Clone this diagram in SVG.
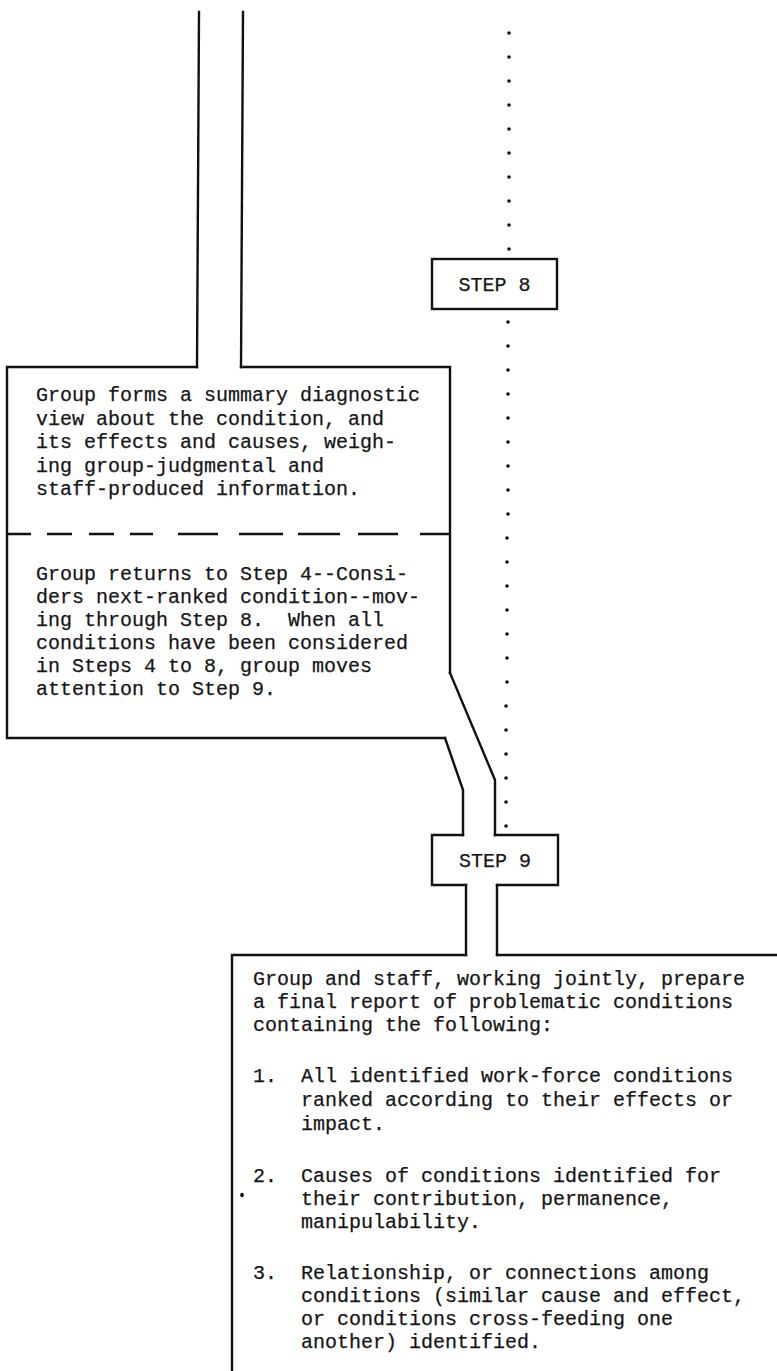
<svg xmlns="http://www.w3.org/2000/svg" width="777" height="1371" viewBox="0 0 777 1371">
  <style>
    .ln { fill: none; stroke: #111; stroke-width: 2.4; stroke-linejoin: miter; stroke-linecap: square; }
    .dash { fill: none; stroke: #111; stroke-width: 2.4; }
    .dot { fill: #111; }
    .tx { font-family: "Liberation Mono", "Courier New", monospace; font-size: 20px; fill: #161616; stroke: #161616; stroke-width: 0.25; }
    .lbl { font-family: "Liberation Mono", "Courier New", monospace; font-size: 20px; fill: #161616; stroke: #161616; stroke-width: 0.25; text-anchor: middle; }
  </style>
  <defs>
    <circle id="d" r="1.8" class="dot"/>
  </defs>
  <rect width="777" height="1371" fill="#fff"/>

  <!-- connectors: double-line channels and dotted path -->
  <g id="connectors">
    <path class="ln" d="M199,12 L197,367"/>
    <path class="ln" d="M243,12 L241,367"/>
    <path class="ln" d="M445,738 L463,790 V835"/>
    <path class="ln" d="M450,673 L495,780 V835"/>
    <path class="ln" d="M466,885 V955"/>
    <path class="ln" d="M497,885 V955"/>
    <g id="dotted">
      <use href="#d" x="509" y="33"/><use href="#d" x="509" y="57"/><use href="#d" x="509" y="81"/>
      <use href="#d" x="509" y="105"/><use href="#d" x="509" y="129"/><use href="#d" x="509" y="153"/>
      <use href="#d" x="509" y="177"/><use href="#d" x="509" y="201"/><use href="#d" x="509" y="225"/>
      <use href="#d" x="509" y="249"/>
      <use href="#d" x="508" y="322"/><use href="#d" x="508" y="346"/><use href="#d" x="508" y="370"/>
      <use href="#d" x="508" y="394"/><use href="#d" x="508" y="418"/><use href="#d" x="508" y="442"/>
      <use href="#d" x="508" y="466"/><use href="#d" x="508" y="490"/><use href="#d" x="508" y="514"/>
      <use href="#d" x="507" y="538"/><use href="#d" x="507" y="562"/><use href="#d" x="507" y="586"/>
      <use href="#d" x="507" y="610"/><use href="#d" x="507" y="634"/><use href="#d" x="507" y="658"/>
      <use href="#d" x="507" y="682"/><use href="#d" x="506" y="706"/><use href="#d" x="506" y="730"/>
      <use href="#d" x="506" y="754"/><use href="#d" x="506" y="778"/><use href="#d" x="506" y="802"/>
      <use href="#d" x="506" y="826"/>
    </g>
  </g>

  <!-- STEP 8 -->
  <g id="step8">
    <rect class="ln" x="432" y="259" width="125" height="50"/>
    <text class="lbl" x="494.5" y="291">STEP 8</text>
  </g>

  <!-- Step 8 description box with dashed divider -->
  <g id="box8">
    <path class="ln" d="M197,367 H7 V738 H445"/>
    <path class="ln" d="M241,367 H450 V673"/>
    <path class="dash" d="M7,534 H31 M47,534 H72 M89,534 H114 M130,534 H153 M178,534 H218 M239,534 H283 M298,534 H340 M358,534 H398 M420,534 H450"/>
    <text class="tx">
      <tspan x="36" y="401">Group forms a summary diagnostic</tspan>
      <tspan x="36" y="424.5">view about the condition, and</tspan>
      <tspan x="36" y="448">its effects and causes, weigh-</tspan>
      <tspan x="36" y="471.5">ing group-judgmental and</tspan>
      <tspan x="36" y="495">staff-produced information.</tspan>
    </text>
    <text class="tx">
      <tspan x="36" y="580">Group returns to Step 4--Consi-</tspan>
      <tspan x="36" y="603">ders next-ranked condition--mov-</tspan>
      <tspan x="36" y="626">ing through Step 8.&#160; When all</tspan>
      <tspan x="36" y="649">conditions have been considered</tspan>
      <tspan x="36" y="672">in Steps 4 to 8, group moves</tspan>
      <tspan x="36" y="695">attention to Step 9.</tspan>
    </text>
  </g>

  <!-- STEP 9 -->
  <g id="step9">
    <path class="ln" d="M463,835 H432 V885 H466"/>
    <path class="ln" d="M497,885 H558 V835 H495"/>
    <text class="lbl" x="495" y="867">STEP 9</text>
  </g>

  <!-- Step 9 final report box -->
  <g id="box9">
    <path class="ln" d="M466,955 H232 V1375"/>
    <path class="ln" d="M497,955 H780"/>
    <text class="tx">
      <tspan x="253" y="985">Group and staff, working jointly, prepare</tspan>
      <tspan x="253" y="1008">a final report of problematic conditions</tspan>
      <tspan x="253" y="1031">containing the following:</tspan>
      <tspan x="253" y="1082">1.</tspan><tspan x="301" y="1082">All identified work-force conditions</tspan>
      <tspan x="301" y="1106">ranked according to their effects or</tspan>
      <tspan x="301" y="1130">impact.</tspan>
      <tspan x="253" y="1182">2.</tspan><tspan x="301" y="1182">Causes of conditions identified for</tspan>
      <tspan x="301" y="1205">their contribution, permanence,</tspan>
      <tspan x="301" y="1228">manipulability.</tspan>
      <tspan x="253" y="1279">3.</tspan><tspan x="301" y="1279">Relationship, or connections among</tspan>
      <tspan x="301" y="1302">conditions (similar cause and effect,</tspan>
      <tspan x="301" y="1325">or conditions cross-feeding one</tspan>
      <tspan x="301" y="1348">another) identified.</tspan>
    </text>
    <ellipse cx="242" cy="1195" rx="1.8" ry="2.2" fill="#111"/>
  </g>
</svg>
